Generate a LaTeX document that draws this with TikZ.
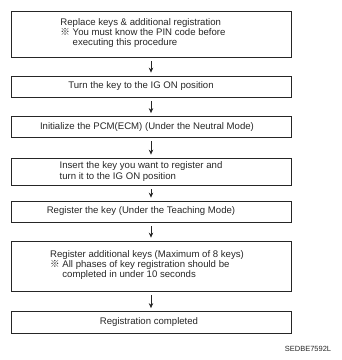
\documentclass[tikz,border=0pt]{standalone}
\usepackage{fontspec}
\setmainfont{Liberation Sans}
\newfontfamily\cjkfont{Noto Sans CJK JP}
\usetikzlibrary{arrows.meta}
\newcommand{\refmark}{{\cjkfont ※}}
\begin{document}
\begin{tikzpicture}[x=1pt,y=-1pt,
  stepbox/.style={draw=black!85, line width=0.75pt, minimum width=280pt, inner sep=0pt},
  steptext/.style={align=left, inner sep=0pt, font=\fontsize{9.6}{10.4}\selectfont, text=black!85},
  flowarrow/.style={draw=black!85, line width=0.9pt, -{Stealth[length=5pt,width=4.5pt]}},
  tag/.style={font=\fontsize{7.5}{9}\selectfont, text=black!85, inner sep=0pt}]
\useasboundingbox (0,0) rectangle (342,360);
\node[stepbox, minimum height=46pt] (b1) at (151,34) {};
\node[steptext] (t1) at (143,33)
  {Replace keys \& additional registration\\
   \refmark\ You must know the PIN code before\\
   \phantom{\refmark\ }executing this procedure};
\node[stepbox, minimum height=21pt] (b2) at (151,86.5) {};
\node[steptext] (t2) at (141,86.5) {Turn the key to the IG ON position};
\node[stepbox, minimum height=20.5pt] (b3) at (151,126.75) {};
\node[steptext] (t3) at (147,126.75) {Initialize the PCM(ECM) (Under the Neutral Mode)};
\node[stepbox, minimum height=27pt] (b4) at (151,171.5) {};
\node[steptext] (t4) at (141,171.5)
  {Insert the key you want to register and\\
   turn it to the IG ON position};
\node[stepbox, minimum height=21pt] (b5) at (151,211.5) {};
\node[steptext] (t5) at (141,211.5) {Register the key (Under the Teaching Mode)};
\node[stepbox, minimum height=50pt] (b6) at (151,266) {};
\node[steptext] (t6) at (147,265)
  {Register additional keys (Maximum of 8 keys)\\
   \refmark\ All phases of key registration should be\\
   \phantom{\refmark\ }completed in under 10 seconds};
\node[stepbox, minimum height=21.5pt] (b7) at (151,322.25) {};
\node[steptext] (t7) at (149,322.25) {Registration completed};
\node[tag] (code) at (308,349) {SEDBE7592L};
\draw[flowarrow] ([yshift=-4pt]b1.south) -- ([yshift=3pt]b2.north);
\draw[flowarrow] ([yshift=-4pt]b2.south) -- ([yshift=3pt]b3.north);
\draw[flowarrow] ([yshift=-4pt]b3.south) -- ([yshift=3pt]b4.north);
\draw[flowarrow] ([yshift=-4pt]b4.south) -- ([yshift=3pt]b5.north);
\draw[flowarrow] ([yshift=-4pt]b5.south) -- ([yshift=3pt]b6.north);
\draw[flowarrow] ([yshift=-4pt]b6.south) -- ([yshift=3pt]b7.north);
\end{tikzpicture}
\end{document}
